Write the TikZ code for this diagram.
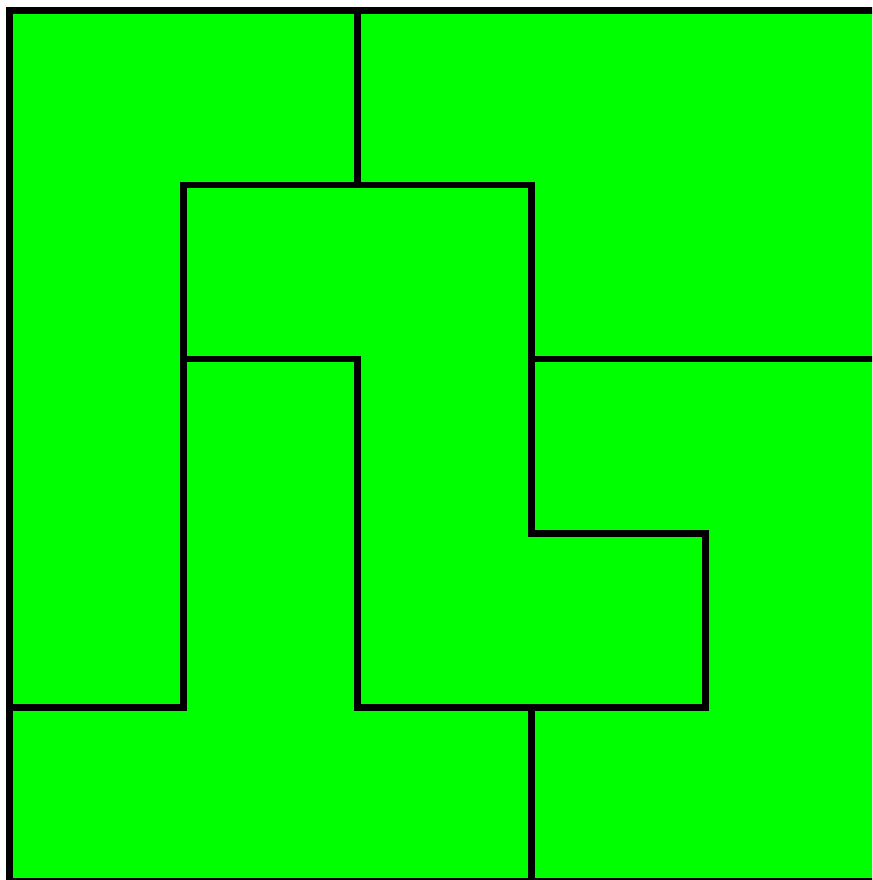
\documentclass[tikz,border=0pt]{standalone}
\usepackage{xcolor}
\usepackage{tikz}
\usetikzlibrary{calc}
\definecolor{boardgreen}{RGB}{0,255,0}

\begin{document}
\begin{tikzpicture}[x=1cm, y=-1cm]
  \tikzset{edge/.style={line width=0.04cm, black, line join=miter}}

  % Frame (board is cut off on the right and at the bottom)
  \clip (-0.0546,-0.0632) rectangle (4.957,4.994);

  % Board Base
  \fill[boardgreen] (0,0) rectangle (5,5);
  \draw[edge] (0,0) rectangle (5,5);

  % Piece Boundaries
  % Top split
  \draw[edge] (2,0) -- (2,1);
  % Central chain
  \draw[edge] (0,4) -- (1,4) -- (1,1) -- (3,1) -- (3,3) -- (4,3) -- (4,4)
              -- (2,4) -- (2,2) -- (1,2);
  % Right split
  \draw[edge] (3,2) -- (5,2);
  % Bottom split
  \draw[edge] (3,4) -- (3,5);
\end{tikzpicture}
\end{document}
